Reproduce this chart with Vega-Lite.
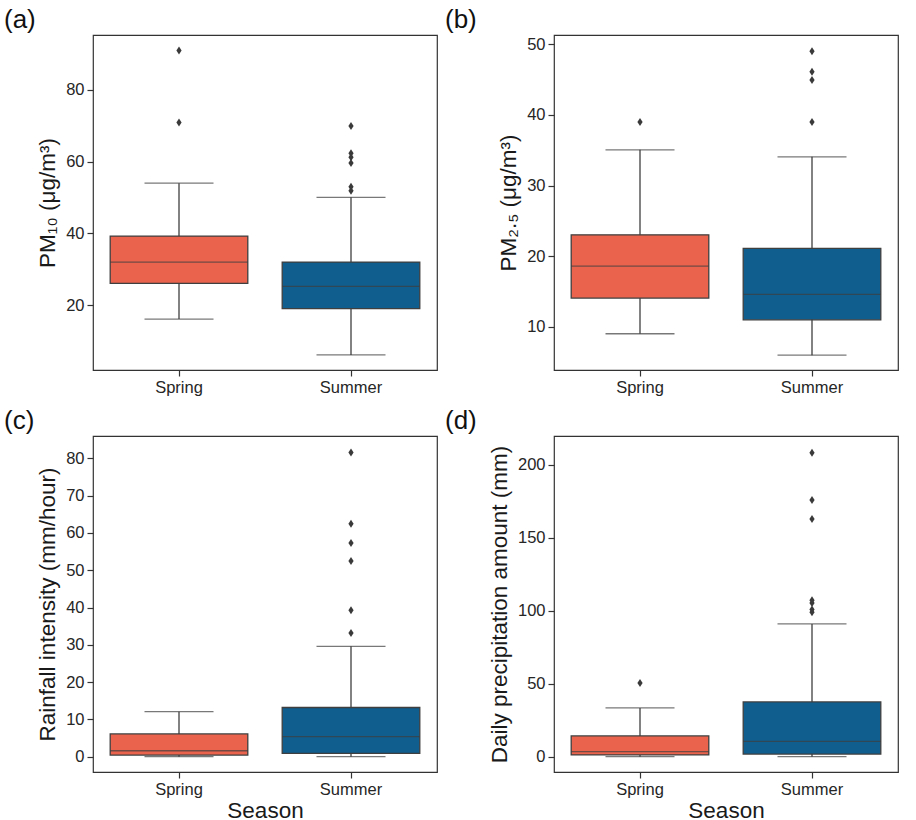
{
  "$schema": "https://vega.github.io/schema/vega-lite/v6.json",
  "padding": {"left": 3, "top": 6, "right": 5, "bottom": 5},
  "background": "white",
  "datasets": {
    "box": [
      {"panel": "a", "season": "Spring", "lo": 16.1, "q1": 26.05, "med": 32.0, "q3": 39.25, "hi": 54.0},
      {"panel": "a", "season": "Summer", "lo": 6.1, "q1": 19.0, "med": 25.2, "q3": 32.0, "hi": 50.05},
      {"panel": "b", "season": "Spring", "lo": 9.03, "q1": 14.07, "med": 18.6, "q3": 23.03, "hi": 35.05},
      {"panel": "b", "season": "Summer", "lo": 6.0, "q1": 11.0, "med": 14.6, "q3": 21.1, "hi": 34.06},
      {"panel": "c", "season": "Spring", "lo": 0, "q1": 0.45, "med": 1.6, "q3": 6.1, "hi": 12.07},
      {"panel": "c", "season": "Summer", "lo": 0, "q1": 0.9, "med": 5.36, "q3": 13.2, "hi": 29.6},
      {"panel": "d", "season": "Spring", "lo": 0, "q1": 1.2, "med": 3.4, "q3": 14.2, "hi": 33.4},
      {"panel": "d", "season": "Summer", "lo": 0, "q1": 1.8, "med": 10.5, "q3": 37.5, "hi": 90.9}
    ],
    "out": [
      {"panel": "a", "season": "Spring", "v": 90.97},
      {"panel": "a", "season": "Spring", "v": 70.9},
      {"panel": "a", "season": "Summer", "v": 69.9},
      {"panel": "a", "season": "Summer", "v": 62.3},
      {"panel": "a", "season": "Summer", "v": 61.2},
      {"panel": "a", "season": "Summer", "v": 59.6},
      {"panel": "a", "season": "Summer", "v": 53.0},
      {"panel": "a", "season": "Summer", "v": 51.9},
      {"panel": "b", "season": "Spring", "v": 39.0},
      {"panel": "b", "season": "Summer", "v": 49.0},
      {"panel": "b", "season": "Summer", "v": 46.1},
      {"panel": "b", "season": "Summer", "v": 44.95},
      {"panel": "b", "season": "Summer", "v": 39.0},
      {"panel": "c", "season": "Summer", "v": 81.6},
      {"panel": "c", "season": "Summer", "v": 62.5},
      {"panel": "c", "season": "Summer", "v": 57.3},
      {"panel": "c", "season": "Summer", "v": 52.5},
      {"panel": "c", "season": "Summer", "v": 39.3},
      {"panel": "c", "season": "Summer", "v": 33.2},
      {"panel": "d", "season": "Spring", "v": 50.5},
      {"panel": "d", "season": "Summer", "v": 208.2},
      {"panel": "d", "season": "Summer", "v": 175.8},
      {"panel": "d", "season": "Summer", "v": 162.8},
      {"panel": "d", "season": "Summer", "v": 107.1},
      {"panel": "d", "season": "Summer", "v": 105.3},
      {"panel": "d", "season": "Summer", "v": 100.7},
      {"panel": "d", "season": "Summer", "v": 98.9}
    ]
  },
  "columns": 2,
  "spacing": {"row": 10, "column": 6},
  "concat": [
    {
      "width": 344, "height": 335,
      "title": {"text": "(a)", "dx": -89},
      "layer": [
        {"data": {"name": "box"}, "transform": [{"filter": "datum.panel == 'a'"}],
         "mark": {"type": "rule", "color": "#3f3f3f", "strokeWidth": 1.3},
         "encoding": {
           "x": {"field": "season", "type": "nominal", "scale": {"paddingInner": 0, "paddingOuter": 0}, "axis": {"title": null}},
           "y": {"field": "lo", "type": "quantitative", "scale": {"domain": [1.9, 95.3], "nice": false, "zero": false}, "axis": {"values": [20, 40, 60, 80], "title": "PM₁₀ (μg/m³)"}},
           "y2": {"field": "hi"}}},
        {"data": {"name": "box"}, "transform": [{"filter": "datum.panel == 'a'"}],
         "mark": {"type": "tick", "orient": "horizontal", "size": 69, "thickness": 1.3, "color": "#3f3f3f"},
         "encoding": {"x": {"field": "season", "type": "nominal"}, "y": {"field": "lo", "type": "quantitative"}}},
        {"data": {"name": "box"}, "transform": [{"filter": "datum.panel == 'a'"}],
         "mark": {"type": "tick", "orient": "horizontal", "size": 69, "thickness": 1.3, "color": "#3f3f3f"},
         "encoding": {"x": {"field": "season", "type": "nominal"}, "y": {"field": "hi", "type": "quantitative"}}},
        {"data": {"name": "box"}, "transform": [{"filter": "datum.panel == 'a'"}],
         "mark": {"type": "bar", "width": {"band": 0.8}, "stroke": "#3f3f3f", "strokeWidth": 1.3, "opacity": 1},
         "encoding": {"x": {"field": "season", "type": "nominal"}, "y": {"field": "q1", "type": "quantitative"}, "y2": {"field": "q3"},
           "color": {"field": "season", "type": "nominal", "scale": {"domain": ["Spring", "Summer"], "range": ["#E9634D", "#0F5E8E"]}, "legend": null}}},
        {"data": {"name": "box"}, "transform": [{"filter": "datum.panel == 'a'"}],
         "mark": {"type": "tick", "orient": "horizontal", "size": 138, "thickness": 1.3, "color": "#3f3f3f"},
         "encoding": {"x": {"field": "season", "type": "nominal"}, "y": {"field": "med", "type": "quantitative"}}},
        {"data": {"name": "out"}, "transform": [{"filter": "datum.panel == 'a'"}],
         "mark": {"type": "point", "shape": "M0,-1L0.65,0L0,1L-0.65,0Z", "filled": true, "size": 64, "color": "#3a3a3a", "opacity": 1},
         "encoding": {"x": {"field": "season", "type": "nominal"}, "y": {"field": "v", "type": "quantitative"}}}
      ]
    },
    {
      "width": 344, "height": 335,
      "title": {"text": "(b)", "dx": -109},
      "layer": [
        {"data": {"name": "box"}, "transform": [{"filter": "datum.panel == 'b'"}],
         "mark": {"type": "rule", "color": "#3f3f3f", "strokeWidth": 1.3},
         "encoding": {
           "x": {"field": "season", "type": "nominal", "scale": {"paddingInner": 0, "paddingOuter": 0}, "axis": {"title": null}},
           "y": {"field": "lo", "type": "quantitative", "scale": {"domain": [3.9, 51.3], "nice": false, "zero": false}, "axis": {"values": [10, 20, 30, 40, 50], "title": "PM₂.₅ (μg/m³)"}},
           "y2": {"field": "hi"}}},
        {"data": {"name": "box"}, "transform": [{"filter": "datum.panel == 'b'"}],
         "mark": {"type": "tick", "orient": "horizontal", "size": 69, "thickness": 1.3, "color": "#3f3f3f"},
         "encoding": {"x": {"field": "season", "type": "nominal"}, "y": {"field": "lo", "type": "quantitative"}}},
        {"data": {"name": "box"}, "transform": [{"filter": "datum.panel == 'b'"}],
         "mark": {"type": "tick", "orient": "horizontal", "size": 69, "thickness": 1.3, "color": "#3f3f3f"},
         "encoding": {"x": {"field": "season", "type": "nominal"}, "y": {"field": "hi", "type": "quantitative"}}},
        {"data": {"name": "box"}, "transform": [{"filter": "datum.panel == 'b'"}],
         "mark": {"type": "bar", "width": {"band": 0.8}, "stroke": "#3f3f3f", "strokeWidth": 1.3, "opacity": 1},
         "encoding": {"x": {"field": "season", "type": "nominal"}, "y": {"field": "q1", "type": "quantitative"}, "y2": {"field": "q3"},
           "color": {"field": "season", "type": "nominal", "scale": {"domain": ["Spring", "Summer"], "range": ["#E9634D", "#0F5E8E"]}, "legend": null}}},
        {"data": {"name": "box"}, "transform": [{"filter": "datum.panel == 'b'"}],
         "mark": {"type": "tick", "orient": "horizontal", "size": 138, "thickness": 1.3, "color": "#3f3f3f"},
         "encoding": {"x": {"field": "season", "type": "nominal"}, "y": {"field": "med", "type": "quantitative"}}},
        {"data": {"name": "out"}, "transform": [{"filter": "datum.panel == 'b'"}],
         "mark": {"type": "point", "shape": "M0,-1L0.65,0L0,1L-0.65,0Z", "filled": true, "size": 64, "color": "#3a3a3a", "opacity": 1},
         "encoding": {"x": {"field": "season", "type": "nominal"}, "y": {"field": "v", "type": "quantitative"}}}
      ]
    },
    {
      "width": 344, "height": 336,
      "title": {"text": "(c)", "dx": -89},
      "layer": [
        {"data": {"name": "box"}, "transform": [{"filter": "datum.panel == 'c'"}],
         "mark": {"type": "rule", "color": "#3f3f3f", "strokeWidth": 1.3},
         "encoding": {
           "x": {"field": "season", "type": "nominal", "scale": {"paddingInner": 0, "paddingOuter": 0}, "axis": {"title": "Season"}},
           "y": {"field": "lo", "type": "quantitative", "scale": {"domain": [-4.1, 86], "nice": false, "zero": false}, "axis": {"values": [0, 10, 20, 30, 40, 50, 60, 70, 80], "title": "Rainfall intensity (mm/hour)"}},
           "y2": {"field": "hi"}}},
        {"data": {"name": "box"}, "transform": [{"filter": "datum.panel == 'c'"}],
         "mark": {"type": "tick", "orient": "horizontal", "size": 69, "thickness": 1.3, "color": "#3f3f3f"},
         "encoding": {"x": {"field": "season", "type": "nominal"}, "y": {"field": "lo", "type": "quantitative"}}},
        {"data": {"name": "box"}, "transform": [{"filter": "datum.panel == 'c'"}],
         "mark": {"type": "tick", "orient": "horizontal", "size": 69, "thickness": 1.3, "color": "#3f3f3f"},
         "encoding": {"x": {"field": "season", "type": "nominal"}, "y": {"field": "hi", "type": "quantitative"}}},
        {"data": {"name": "box"}, "transform": [{"filter": "datum.panel == 'c'"}],
         "mark": {"type": "bar", "width": {"band": 0.8}, "stroke": "#3f3f3f", "strokeWidth": 1.3, "opacity": 1},
         "encoding": {"x": {"field": "season", "type": "nominal"}, "y": {"field": "q1", "type": "quantitative"}, "y2": {"field": "q3"},
           "color": {"field": "season", "type": "nominal", "scale": {"domain": ["Spring", "Summer"], "range": ["#E9634D", "#0F5E8E"]}, "legend": null}}},
        {"data": {"name": "box"}, "transform": [{"filter": "datum.panel == 'c'"}],
         "mark": {"type": "tick", "orient": "horizontal", "size": 138, "thickness": 1.3, "color": "#3f3f3f"},
         "encoding": {"x": {"field": "season", "type": "nominal"}, "y": {"field": "med", "type": "quantitative"}}},
        {"data": {"name": "out"}, "transform": [{"filter": "datum.panel == 'c'"}],
         "mark": {"type": "point", "shape": "M0,-1L0.65,0L0,1L-0.65,0Z", "filled": true, "size": 64, "color": "#3a3a3a", "opacity": 1},
         "encoding": {"x": {"field": "season", "type": "nominal"}, "y": {"field": "v", "type": "quantitative"}}}
      ]
    },
    {
      "width": 344, "height": 336,
      "title": {"text": "(d)", "dx": -109},
      "layer": [
        {"data": {"name": "box"}, "transform": [{"filter": "datum.panel == 'd'"}],
         "mark": {"type": "rule", "color": "#3f3f3f", "strokeWidth": 1.3},
         "encoding": {
           "x": {"field": "season", "type": "nominal", "scale": {"paddingInner": 0, "paddingOuter": 0}, "axis": {"title": "Season"}},
           "y": {"field": "lo", "type": "quantitative", "scale": {"domain": [-10.5, 219.6], "nice": false, "zero": false}, "axis": {"values": [0, 50, 100, 150, 200], "title": "Daily precipitation amount (mm)"}},
           "y2": {"field": "hi"}}},
        {"data": {"name": "box"}, "transform": [{"filter": "datum.panel == 'd'"}],
         "mark": {"type": "tick", "orient": "horizontal", "size": 69, "thickness": 1.3, "color": "#3f3f3f"},
         "encoding": {"x": {"field": "season", "type": "nominal"}, "y": {"field": "lo", "type": "quantitative"}}},
        {"data": {"name": "box"}, "transform": [{"filter": "datum.panel == 'd'"}],
         "mark": {"type": "tick", "orient": "horizontal", "size": 69, "thickness": 1.3, "color": "#3f3f3f"},
         "encoding": {"x": {"field": "season", "type": "nominal"}, "y": {"field": "hi", "type": "quantitative"}}},
        {"data": {"name": "box"}, "transform": [{"filter": "datum.panel == 'd'"}],
         "mark": {"type": "bar", "width": {"band": 0.8}, "stroke": "#3f3f3f", "strokeWidth": 1.3, "opacity": 1},
         "encoding": {"x": {"field": "season", "type": "nominal"}, "y": {"field": "q1", "type": "quantitative"}, "y2": {"field": "q3"},
           "color": {"field": "season", "type": "nominal", "scale": {"domain": ["Spring", "Summer"], "range": ["#E9634D", "#0F5E8E"]}, "legend": null}}},
        {"data": {"name": "box"}, "transform": [{"filter": "datum.panel == 'd'"}],
         "mark": {"type": "tick", "orient": "horizontal", "size": 138, "thickness": 1.3, "color": "#3f3f3f"},
         "encoding": {"x": {"field": "season", "type": "nominal"}, "y": {"field": "med", "type": "quantitative"}}},
        {"data": {"name": "out"}, "transform": [{"filter": "datum.panel == 'd'"}],
         "mark": {"type": "point", "shape": "M0,-1L0.65,0L0,1L-0.65,0Z", "filled": true, "size": 64, "color": "#3a3a3a", "opacity": 1},
         "encoding": {"x": {"field": "season", "type": "nominal"}, "y": {"field": "v", "type": "quantitative"}}}
      ]
    }
  ],
  "config": {
    "font": "Liberation Sans",
    "view": {"stroke": "#333333", "strokeWidth": 1.2},
    "axis": {
      "grid": false, "domain": false,
      "labelFont": "Liberation Sans", "labelFontSize": 16.5, "labelColor": "#262626",
      "tickColor": "#333333", "tickSize": 6, "tickWidth": 1.2, "labelPadding": 3,
      "titleFont": "Liberation Sans", "titleFontSize": 22.5, "titleFontWeight": "normal", "titleColor": "#1a1a1a", "titlePadding": 6
    },
    "axisX": {"labelAngle": 0, "titlePadding": 2},
    "title": {"font": "Liberation Sans", "fontSize": 26, "fontWeight": "normal", "anchor": "start", "frame": "group", "offset": 2, "color": "#111111"}
  }
}
